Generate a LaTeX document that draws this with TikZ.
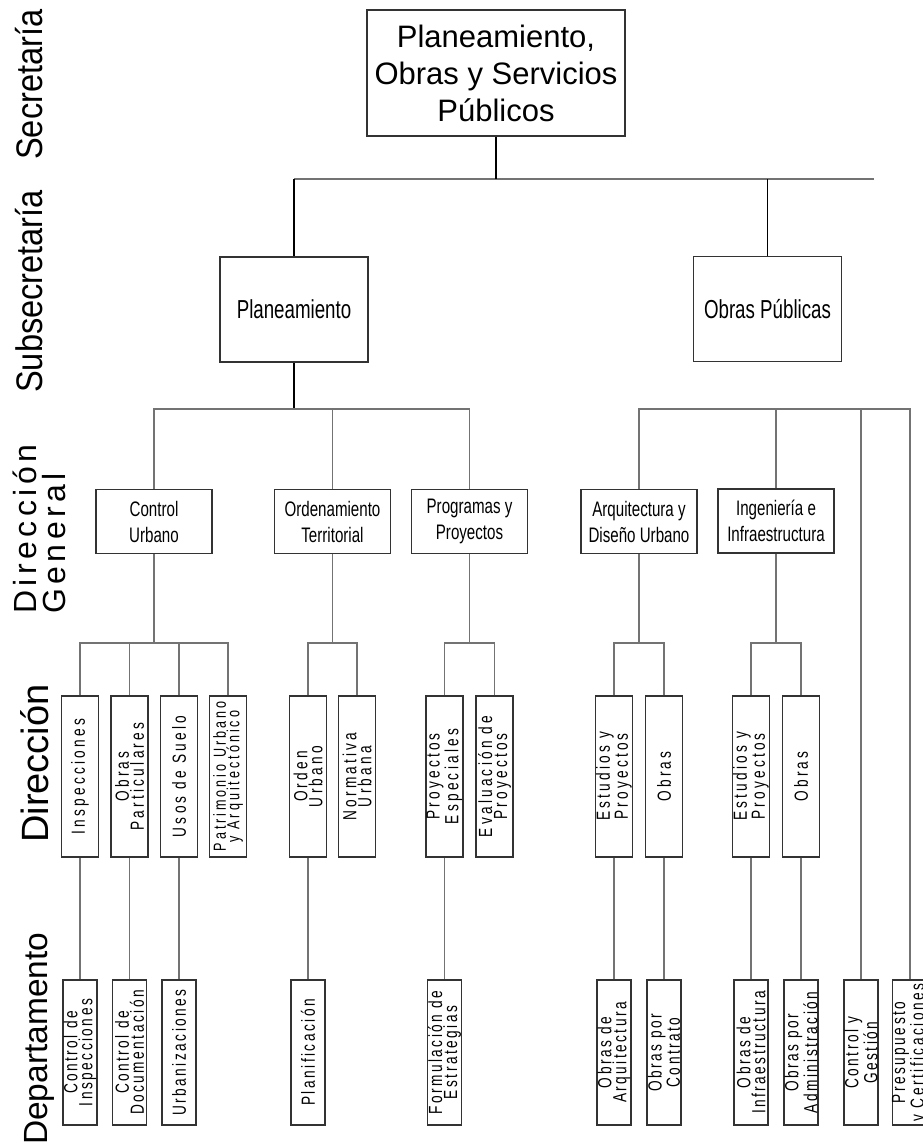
\documentclass[tikz,border=0pt]{standalone}
\usepackage{fontspec}
\setmainfont{Liberation Sans}
\newfontfamily\narrowsans[FakeStretch=0.72]{Liberation Sans}
\newfontfamily\levelsans[FakeStretch=0.88]{Liberation Sans}
\newfontfamily\dirsans[FakeStretch=0.72,LetterSpace=17]{Liberation Sans}
\newfontfamily\depsans[FakeStretch=0.72,LetterSpace=13]{Liberation Sans}
\newfontfamily\widesans[LetterSpace=14]{Liberation Sans}
\usetikzlibrary{positioning}
\definecolor{linegray}{gray}{0.45}
\definecolor{boxgray}{gray}{0.2}

\begin{document}
\begin{tikzpicture}[x=1pt,y=-1pt,
    unitbox/.style={draw=boxgray,line width=1.2pt,inner sep=0pt,align=center},
    topbox/.style={unitbox,minimum width=258pt,minimum height=126pt,font=\fontsize{31}{37}\selectfont},
    subbox/.style={unitbox,minimum width=148pt,minimum height=105pt,font=\narrowsans\fontsize{26}{30}\selectfont},
    genbox/.style={unitbox,minimum width=116pt,minimum height=64pt,font=\narrowsans\fontsize{21}{26}\selectfont},
    dirbox/.style={unitbox,rotate=90,minimum width=161pt,minimum height=37pt,font=\dirsans\fontsize{19}{15}\selectfont},
    depbox/.style={unitbox,rotate=90,minimum width=145pt,minimum height=34pt,font=\depsans\fontsize{19}{15}\selectfont},
    rowlabel/.style={rotate=90,inner sep=0pt,font=\levelsans\fontsize{37}{40}\selectfont},
    connector/.style={draw=linegray,line width=1.3pt},
    darkconnector/.style={draw=black,line width=1.3pt},
    secbar/.style={draw=linegray,line width=2.6pt},
    trunkline/.style={draw=black,line width=2pt}]
    \useasboundingbox (0,0) rectangle (923,1146);

    % row labels
    \node[rowlabel,anchor=base west] (lsec) at (42,160) {Secretaría};
    \node[rowlabel,anchor=base west] (lsub) at (42,393) {Subsecretaría};
    \node[rowlabel,font=\widesans\fontsize{32}{29}\selectfont,align=left,anchor=south west] (ldg) at (66,614) {Dirección\\General};
    \node[rowlabel,font=\fontsize{38}{40}\selectfont,anchor=base west] (ldir) at (48,843) {Dirección};
    \node[rowlabel,font=\fontsize{33.5}{40}\selectfont,anchor=base west] (ldep) at (47,1145) {Departamento};

    % secretaria and subsecretarias
    \node[topbox] (sec) at (496,73) {Planeamiento,\\Obras y Servicios\\Públicos};
    \node[subbox] (plan) at (294,309.5) {Planeamiento};
    \node[subbox] (obp) at (767.5,309) {Obras Públicas};

    % direcciones generales
    \node[genbox] (cu) at (154,521.5) {Control\\Urbano};
    \node[genbox] (ot) at (332.5,521.5) {Ordenamiento\\Territorial};
    \node[genbox] (pp) at (469.5,521.5) {Programas y\\Proyectos};
    \node[genbox] (ad) at (639,521.5) {Arquitectura y\\Diseño Urbano};
    \node[genbox] (ii) at (776,521) {Ingeniería e\\Infraestructura};

    % direcciones
    \node[dirbox] (insp) at (80,776.5) {Inspecciones};
    \node[dirbox] (opart) at (129.5,776.5) {Obras\\Particulares};
    \node[dirbox] (usos) at (179,776.5) {Usos de Suelo};
    \node[dirbox,font=\dirsans\fontsize{17.5}{13.5}\selectfont] (patr) at (228,776.5) {Patrimonio Urbano\\y Arquitectónico};
    \node[dirbox] (orden) at (308,776.5) {Orden\\Urbano};
    \node[dirbox] (norm) at (357,776.5) {Normativa\\Urbana};
    \node[dirbox] (pesp) at (444.5,776.5) {Proyectos\\Especiales};
    \node[dirbox] (evpr) at (494.5,776.5) {Evaluación de\\Proyectos};
    \node[dirbox] (epa) at (614,776.5) {Estudios y\\Proyectos};
    \node[dirbox] (oba) at (664,776.5) {Obras};
    \node[dirbox] (epi) at (751,776.5) {Estudios y\\Proyectos};
    \node[dirbox] (obi) at (801,776.5) {Obras};

    % departamentos
    \node[depbox] (cinsp) at (80,1052.5) {Control de\\Inspecciones};
    \node[depbox] (cdoc) at (129.5,1052.5) {Control de\\Documentación};
    \node[depbox] (urb) at (179,1052.5) {Urbanizaciones};
    \node[depbox] (plani) at (308,1052.5) {Planificación};
    \node[depbox] (form) at (444.5,1052.5) {Formulación de\\Estrategias};
    \node[depbox] (oarq) at (614,1052.5) {Obras de\\Arquitectura};
    \node[depbox] (ocon) at (664,1052.5) {Obras por\\Contrato};
    \node[depbox] (oinf) at (751,1052.5) {Obras de\\Infraestructura};
    \node[depbox] (oadm) at (801,1052.5) {Obras por\\Administración};
    \node[depbox] (cges) at (861,1052.5) {Control y\\Gestión};
    \node[depbox] (pres) at (910,1052.5) {Presupuesto\\y Certificaciones};

    % top level
    \coordinate (secL) at (294,179);
    \coordinate (secR) at (874,179);
    \draw[secbar] (secL) -- (secR);
    \draw[trunkline] (sec.south) -- (sec.south |- secL);
    \draw[darkconnector] (secL) -- (plan.north);
    \draw[darkconnector] (obp.north) -- (obp.north |- secL);

    % planeamiento
    \coordinate (planbus) at (294,409);
    \draw[darkconnector] (plan.south) -- (planbus);
    \draw[connector] (cu.north) |- (planbus);
    \draw[connector] (pp.north) |- (planbus);
    \draw[connector] (ot.north) -- (ot.north |- planbus);

    % obras publicas
    \coordinate (obpbus) at (910,409);
    \draw[connector] (ad.north) |- (obpbus) -- (pres.east);
    \draw[connector] (ii.north) -- (ii.north |- obpbus);
    \draw[connector] (cges.east) -- (cges.east |- obpbus);

    % direcciones
    \coordinate (cubus) at (154,643);
    \draw[connector] (cu.south) -- (cubus);
    \draw[connector] (insp.east) |- (cubus);
    \draw[connector] (patr.east) |- (cubus);
    \draw[connector] (opart.east) -- (opart.east |- cubus);
    \draw[connector] (usos.east) -- (usos.east |- cubus);
    \coordinate (otbus) at (332.5,643);
    \draw[connector] (ot.south) -- (otbus);
    \draw[connector] (orden.east) |- (otbus);
    \draw[connector] (norm.east) |- (otbus);
    \coordinate (ppbus) at (469.5,643);
    \draw[connector] (pp.south) -- (ppbus);
    \draw[connector] (pesp.east) |- (ppbus);
    \draw[connector] (evpr.east) |- (ppbus);
    \coordinate (adbus) at (639,643);
    \draw[connector] (ad.south) -- (adbus);
    \draw[connector] (epa.east) |- (adbus);
    \draw[connector] (oba.east) |- (adbus);
    \coordinate (iibus) at (776,643);
    \draw[connector] (ii.south) -- (iibus);
    \draw[connector] (epi.east) |- (iibus);
    \draw[connector] (obi.east) |- (iibus);

    % departamentos
    \draw[connector] (insp.west) -- (cinsp.east);
    \draw[connector] (opart.west) -- (cdoc.east);
    \draw[connector] (usos.west) -- (urb.east);
    \draw[connector] (orden.west) -- (plani.east);
    \draw[connector] (pesp.west) -- (form.east);
    \draw[connector] (epa.west) -- (oarq.east);
    \draw[connector] (oba.west) -- (ocon.east);
    \draw[connector] (epi.west) -- (oinf.east);
    \draw[connector] (obi.west) -- (oadm.east);
\end{tikzpicture}
\end{document}
